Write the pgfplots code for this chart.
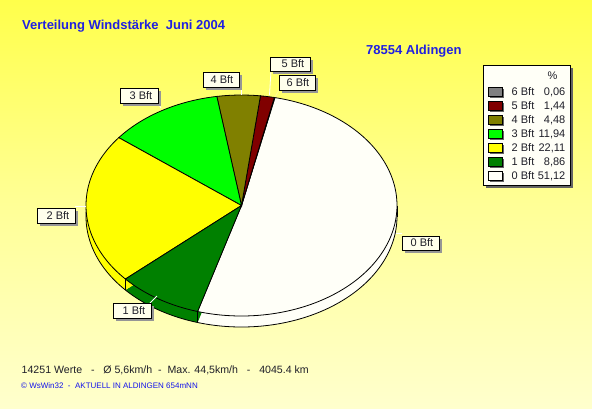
\documentclass[border=0pt]{standalone}
\usepackage{pgfplots}
\pgfplotsset{compat=1.18}
\usepackage{fontspec}
\setmainfont{Liberation Sans}

\definecolor{ctitle}{RGB}{32,32,225}
\definecolor{cfoot}{RGB}{20,20,235}
\definecolor{ctext}{RGB}{30,30,40}
\definecolor{bg0}{RGB}{255,255,245}
\definecolor{bg1}{RGB}{255,255,205}
\definecolor{bg2}{RGB}{255,255,150}
\definecolor{bg3}{RGB}{255,255,75}
\definecolor{bg4}{RGB}{255,255,0}
\definecolor{lblfill}{RGB}{255,255,236}
\definecolor{lshadow}{RGB}{150,150,150}
\definecolor{legshadow}{RGB}{100,100,100}
\definecolor{cZero}{RGB}{255,255,248}
\definecolor{cOne}{RGB}{0,128,0}
\definecolor{cTwo}{RGB}{255,255,0}
\definecolor{cThree}{RGB}{0,255,0}
\definecolor{cFour}{RGB}{128,128,0}
\definecolor{cFive}{RGB}{128,0,0}
\definecolor{cSix}{RGB}{128,128,128}

\pgfdeclareverticalshading{bgshade}{100bp}{color(0bp)=(bg0); color(25bp)=(bg1); color(50bp)=(bg2); color(75bp)=(bg3); color(100bp)=(bg4)}

% pie geometry (pixels)
\def\cx{241.5}
\def\cy{205.5}
\def\rx{155.5}
\def\ry{110.5}
\def\hh{11}
\pgfmathsetmacro\cyb{\cy+\hh}

% data: share of each wind force in percent
\def\pZero{51.12}
\def\pOne{8.86}
\def\pTwo{22.11}
\def\pThree{11.94}
\def\pFour{4.48}
\def\pFive{1.44}
\def\pSix{0.06}

\def\tB{77.6}
\pgfmathsetmacro\tA{\tB-3.6*\pZero}
\pgfmathsetmacro\tC{\tB+3.6*\pSix}
\pgfmathsetmacro\tD{\tC+3.6*\pFive}
\pgfmathsetmacro\tE{\tD+3.6*\pFour}
\pgfmathsetmacro\tF{\tE+3.6*\pThree}
\pgfmathsetmacro\tG{\tF+3.6*\pTwo}
\pgfmathsetmacro\tH{\tG+3.6*\pOne}

\pgfmathsetmacro\xG{\cx+\rx*cos(\tG)}
\pgfmathsetmacro\yG{\cy-\ry*sin(\tG)}
\pgfmathsetmacro\yGb{\yG+\hh}
\pgfmathsetmacro\xH{\cx+\rx*cos(\tH)}
\pgfmathsetmacro\yH{\cy-\ry*sin(\tH)}
\pgfmathsetmacro\yHb{\yH+\hh}
\pgfmathsetmacro\xL{\cx-\rx}
\pgfmathsetmacro\xR{\cx+\rx}

\newcommand{\lbox}[5]{%
  \fill[lshadow] (axis cs:{#1+3},{#2+3}) rectangle (axis cs:{#3+3},{#4+3});
  \filldraw[fill=lblfill, draw=black, line width=0.8pt] (axis cs:#1,#2) rectangle (axis cs:#3,#4);
  \node[anchor=base east, inner sep=0pt, text=ctext, font=\fontsize{11}{13}\selectfont] at (axis cs:{#3-5.5},{#4-3.8}) {#5};
}
\newcommand{\legrow}[4]{% y baseline, color, label, value
  \fill[legshadow] (axis cs:490,{#1-6}) rectangle (axis cs:504,{#1+3});
  \filldraw[fill=#2, draw=black, line width=0.8pt] (axis cs:488,{#1-8}) rectangle (axis cs:502,{#1+1});
  \node[anchor=base west, inner sep=0pt, text=ctext, font=\fontsize{11}{13}\selectfont] at (axis cs:511.5,#1) {#3};
  \node[anchor=base east, inner sep=0pt, text=ctext, font=\fontsize{11}{13}\selectfont] at (axis cs:565.5,#1) {#4};
}

\begin{document}
\begin{tikzpicture}
\begin{axis}[
  x=1pt, y=1pt,
  xmin=0, xmax=592, ymin=0, ymax=408,
  y dir=reverse,
  hide axis,
  clip=false,
]
% background
\shade[shading=bgshade] (axis cs:0,0) rectangle (axis cs:592,408);

% ---- side of the pie (lower layer) ----
\addplot[fill=cZero, draw=none, domain=\tA:\tB, samples=120] ({\cx+\rx*cos(x)},{\cyb-\ry*sin(x)}) -- (axis cs:\cx,\cyb) -- cycle;
\addplot[fill=cOne, draw=none, domain=\tG:\tH, samples=40] ({\cx+\rx*cos(x)},{\cyb-\ry*sin(x)}) -- (axis cs:\cx,\cyb) -- cycle;
\addplot[fill=cTwo, draw=none, domain=\tF:\tG, samples=60] ({\cx+\rx*cos(x)},{\cyb-\ry*sin(x)}) -- (axis cs:\cx,\cyb) -- cycle;
\addplot[black, line width=0.8pt, domain=175:365, samples=150] ({\cx+\rx*cos(x)},{\cyb-\ry*sin(x)});
\addplot[black, line width=0.8pt] coordinates {(\xG,\yG) (\xG,\yGb)};
\addplot[black, line width=0.8pt] coordinates {(\xH,\yH) (\xH,\yHb)};
\addplot[black, line width=0.8pt] coordinates {(\xL,\cy) (\xL,\cyb)};
\addplot[black, line width=0.8pt] coordinates {(\xR,\cy) (\xR,\cyb)};

% ---- top of the pie ----
\addplot[fill=cZero, draw=black, line width=0.8pt, domain=\tA:\tB, samples=120] ({\cx+\rx*cos(x)},{\cy-\ry*sin(x)}) -- (axis cs:\cx,\cy) -- cycle;
\addplot[fill=cSix, draw=black, line width=0.8pt, domain=\tB:\tC, samples=2] ({\cx+\rx*cos(x)},{\cy-\ry*sin(x)}) -- (axis cs:\cx,\cy) -- cycle;
\addplot[fill=cFive, draw=black, line width=0.8pt, domain=\tC:\tD, samples=5] ({\cx+\rx*cos(x)},{\cy-\ry*sin(x)}) -- (axis cs:\cx,\cy) -- cycle;
\addplot[fill=cFour, draw=black, line width=0.8pt, domain=\tD:\tE, samples=10] ({\cx+\rx*cos(x)},{\cy-\ry*sin(x)}) -- (axis cs:\cx,\cy) -- cycle;
\addplot[fill=cThree, draw=black, line width=0.8pt, domain=\tE:\tF, samples=30] ({\cx+\rx*cos(x)},{\cy-\ry*sin(x)}) -- (axis cs:\cx,\cy) -- cycle;
\addplot[fill=cTwo, draw=black, line width=0.8pt, domain=\tF:\tG, samples=60] ({\cx+\rx*cos(x)},{\cy-\ry*sin(x)}) -- (axis cs:\cx,\cy) -- cycle;
\addplot[fill=cOne, draw=black, line width=0.8pt, domain=\tG:\tH, samples=30] ({\cx+\rx*cos(x)},{\cy-\ry*sin(x)}) -- (axis cs:\cx,\cy) -- cycle;

% ---- leader lines ----
\draw[white, line width=0.8pt] (axis cs:271,71) -- (axis cs:269.5,95);
\draw[white!60!yellow, line width=0.8pt] (axis cs:279,90) -- (axis cs:275,97);
\draw[white, line width=0.8pt] (axis cs:241,87) -- (axis cs:241,95);
\draw[white, line width=0.8pt] (axis cs:158,103) -- (axis cs:161,108);
\draw[white, line width=0.8pt] (axis cs:75,206) -- (axis cs:86,206);
\draw[white, line width=0.8pt] (axis cs:150,303) -- (axis cs:157,296);
\draw[white, line width=0.8pt] (axis cs:396,233) -- (axis cs:402,233);

% ---- slice labels ----
\lbox{270}{57}{310}{71}{5 Bft}
\lbox{279}{75}{315}{90}{6 Bft}
\lbox{203}{72}{239}{87}{4 Bft}
\lbox{120}{88}{158}{103}{3 Bft}
\lbox{37}{208}{75}{223}{2 Bft}
\lbox{113}{303}{151}{318}{1 Bft}
\lbox{402}{236}{439}{250}{0 Bft}

% ---- legend ----
\fill[legshadow] (axis cs:486,68) rectangle (axis cs:573,188);
\filldraw[fill=white!97!yellow, draw=black, line width=0.8pt] (axis cs:483,65) rectangle (axis cs:570,185);
\node[anchor=base east, inner sep=0pt, text=ctext, font=\fontsize{11}{13}\selectfont] at (axis cs:557.5,79) {\%};
\legrow{95}{cSix}{6 Bft}{0,06}
\legrow{109}{cFive}{5 Bft}{1,44}
\legrow{123}{cFour}{4 Bft}{4,48}
\legrow{137}{cThree}{3 Bft}{11,94}
\legrow{151}{cTwo}{2 Bft}{22,11}
\legrow{165}{cOne}{1 Bft}{8,86}
\legrow{179}{cZero}{0 Bft}{51,12}

% ---- titles ----
\node[anchor=base west, inner sep=0pt, text=ctitle, font=\fontsize{13}{15}\selectfont\bfseries] at (axis cs:22,29.5) {Verteilung Windstärke\ \ Juni 2004};
\node[anchor=base west, inner sep=0pt, text=ctitle, font=\fontsize{13}{15}\selectfont\bfseries] at (axis cs:366,54) {78554 Aldingen};

% ---- footer ----
\node[anchor=base west, inner sep=0pt, text=ctext, font=\fontsize{10.6}{12}\selectfont] at (axis cs:21.5,373.7) {14251 Werte\ \ \ -\ \ \ Ø 5,6km/h\ \ -\ \ Max. 44,5km/h\ \ \ -\ \ \ 4045.4 km};
\node[anchor=base west, inner sep=0pt, text=cfoot, font=\fontsize{8}{9}\selectfont] at (axis cs:21,388.7) {© WsWin32\ \ -\ \ AKTUELL IN ALDINGEN 654mNN};
\end{axis}
\end{tikzpicture}
\end{document}
